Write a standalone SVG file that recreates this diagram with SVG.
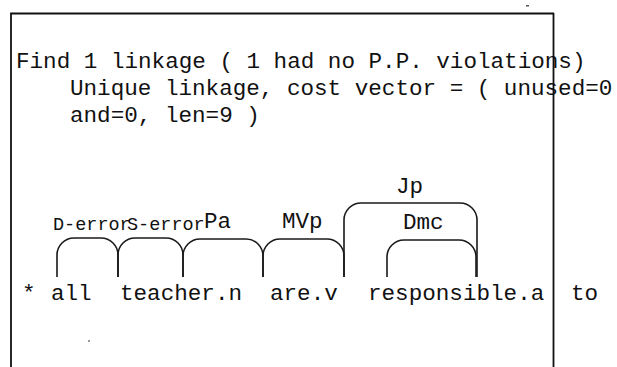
<svg xmlns="http://www.w3.org/2000/svg" width="617" height="367" viewBox="0 0 617 367">
<style>
.t{font-family:"Liberation Mono","Courier New",monospace;font-size:22.6px;fill:#111}
.s{font-family:"Liberation Mono","Courier New",monospace;font-size:18.5px;fill:#111}
.frame{stroke:#111;stroke-width:1.8;fill:none}
.link{stroke:#1a1a1a;stroke-width:1.6;fill:none}
</style>
<rect width="617" height="367" fill="#fff"/>
<g id="frame">
<path class="frame" d="M11 367 V13.5 H554"/>
<path class="frame" d="M553.5 13 V367"/>
<rect x="526" y="5" width="3" height="1.5" fill="#555"/>
<rect x="88" y="340" width="2" height="2" fill="#999"/>
</g>
<g id="header">
<text class="t" x="16" y="68">Find 1 linkage ( 1 had no P.P. violations)</text>
<text class="t" x="70" y="95">Unique linkage, cost vector = ( unused=0</text>
<text class="t" x="70" y="122">and=0, len=9 )</text>
</g>
<g id="connectors">
<path id="l-derror" class="link" d="M57 277 V255 A17 17 0 0 1 74 238 H101 A17 17 0 0 1 118 255 V277"/>
<path id="l-serror" class="link" d="M118 277 V255 A17 17 0 0 1 135 238 H166 A17 17 0 0 1 183 255 V277"/>
<path id="l-pa" class="link" d="M183 277 V256 A17 17 0 0 1 200 239 H246 A17 17 0 0 1 263 256 V277"/>
<path id="l-mvp" class="link" d="M263 277 V256 A17 17 0 0 1 280 239 H327 A17 17 0 0 1 344 256 V277"/>
<path id="l-jp" class="link" d="M344 277 V220 A17 17 0 0 1 361 203 H460 A17 17 0 0 1 477 220 V277"/>
<path id="l-dmc" class="link" d="M387 277 V257 A17 17 0 0 1 404 240 H459 A17 17 0 0 1 476 257 V277"/>
<text class="s" x="53" y="230">D-error</text>
<text class="s" x="127" y="230">S-error</text>
<text class="t" x="204" y="228">Pa</text>
<text class="t" x="282" y="228">MVp</text>
<text class="t" x="396" y="193">Jp</text>
<text class="t" x="403" y="229">Dmc</text>
</g>
<g id="w-star"><text class="t" x="22" y="300">*</text></g>
<g id="w-all"><text class="t" x="51" y="300">all</text></g>
<g id="w-teacher"><text class="t" x="120" y="300">teacher.n</text></g>
<g id="w-are"><text class="t" x="270" y="300">are.v</text></g>
<g id="w-responsible"><text class="t" x="368" y="300">responsible.a</text></g>
<g id="w-to"><text class="t" x="571" y="300">to</text></g>
</svg>
